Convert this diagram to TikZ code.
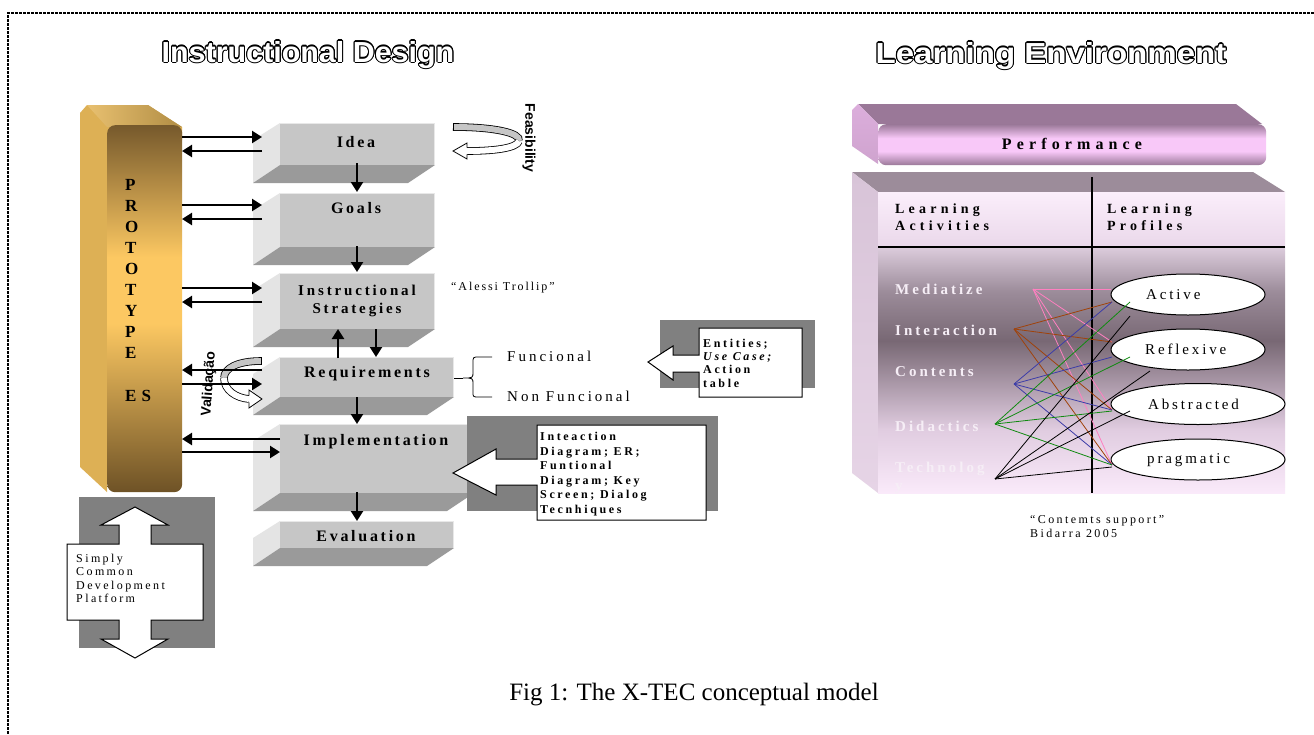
\documentclass[tikz,border=0pt]{standalone}
\usepackage{fontspec}
\setmainfont{Liberation Serif}
\newfontfamily\tsans{Liberation Sans}
\usetikzlibrary{arrows.meta,calc,shapes.geometric}
\newcommand{\ls}[1]{\addfontfeature{LetterSpace=#1}}
\definecolor{slabF}{HTML}{C6C6C6}
\definecolor{slabL}{HTML}{E4E4E4}
\definecolor{slabB}{HTML}{9A9A9A}
\definecolor{callG}{HTML}{808080}
\definecolor{gold}{HTML}{DDB055}
\definecolor{goldT}{HTML}{E8C070}
\definecolor{prT}{HTML}{76592C}
\definecolor{prL}{HTML}{FCC862}
\definecolor{prB}{HTML}{6E5226}
\definecolor{perfT}{HTML}{9A7898}
\definecolor{perfL}{HTML}{F8C8F8}
\definecolor{perfSide}{HTML}{DCAEDC}
\definecolor{tabTop}{HTML}{9C8C9A}
\definecolor{tabSide}{HTML}{D8C4D8}
\definecolor{tabSideB}{HTML}{E6D4E6}
\definecolor{hdrT}{HTML}{FBEEFB}
\definecolor{hdrB}{HTML}{EAD8EA}
\definecolor{tbT}{HTML}{DCCCDC}
\definecolor{tbU}{HTML}{9C8C9A}
\definecolor{tbD}{HTML}{786874}
\definecolor{tbM}{HTML}{E0CCE0}
\definecolor{tbB}{HTML}{FAEAFA}
\definecolor{lpink}{HTML}{FF80C0}
\definecolor{lbrown}{HTML}{A0420A}
\definecolor{lblue}{HTML}{3C3CA8}
\definecolor{lgreen}{HTML}{108A10}
\definecolor{wlabel}{HTML}{F6EEF6}
\pgfdeclareverticalshading{protosh}{100bp}{color(0bp)=(prB); color(25bp)=(prB); color(48bp)=(prL); color(57bp)=(prL); color(75bp)=(prT); color(100bp)=(prT)}
\pgfdeclareverticalshading{tabsh}{100bp}{color(0bp)=(tbB); color(25bp)=(tbB); color(38bp)=(tbM); color(56bp)=(tbD); color(66bp)=(tbU); color(75bp)=(tbT); color(100bp)=(tbT)}
\pgfdeclareverticalshading{perfsh}{100bp}{color(0bp)=(perfT); color(25bp)=(perfT); color(42bp)=(perfL); color(58bp)=(perfL); color(75bp)=(perfT); color(100bp)=(perfT)}
\newcommand{\outlinetitle}[4]{%
  \foreach \ang in {0,22.5,...,337.5}{%
    \node[titlef,text=black,xscale=#3] at ([shift={(\ang:1.05)}]#2) {#4};}%
  \node[titlef,text=white,xscale=#3] (#1) at (#2) {#4};}
\newcommand{\slab}[5]{%
  \fill[slabL] (#2,#3) -- (#2,#5) -- ({#2-27},{#5+18}) -- ({#2-27},{#3+17}) -- cycle;
  \fill[slabB] (#2,#5) -- (#4,#5) -- ({#4-27},{#5+18}) -- ({#2-27},{#5+18}) -- cycle;
  \node[fill=slabF,inner sep=0pt,minimum width={#4-#2},minimum height={#5-#3},anchor=north west] (#1) at (#2,#3) {};
  \draw[white!60!slabF,line width=1.2pt] ({#2},{#3+0.6}) -- ({#4-0.6},{#3+0.6}) -- ({#4-0.6},#5);}
\begin{document}
\begin{tikzpicture}[x=1pt,y=-1pt,
  titlef/.style={font=\tsans\bfseries\fontsize{29}{32}\selectfont,inner sep=0pt,anchor=base},
  arr/.style={line width=2.3pt,-{Triangle[length=10pt,width=12pt]}},
  txt/.style={inner sep=0pt,anchor=base west},
  ctxt/.style={inner sep=0pt,anchor=base},
  boxf/.style={font=\bfseries\fontsize{16}{18}\selectfont\ls{17}},
  protof/.style={font=\bfseries\fontsize{17}{19}\selectfont},
  smallb/.style={font=\bfseries\fontsize{12}{14}\selectfont\ls{22}},
  smallr/.style={font=\fontsize{12}{14}\selectfont\ls{20}},
  funcf/.style={font=\fontsize{15}{17}\selectfont\ls{20}},
  hdrf/.style={font=\bfseries\fontsize{14}{16}\selectfont\ls{30}},
  actf/.style={font=\bfseries\fontsize{15}{17}\selectfont\ls{20},text=wlabel},
  proff/.style={font=\fontsize{15}{17}\selectfont\ls{19}},
  prof/.style={ellipse,draw,fill=white,line width=1pt,inner sep=0pt,minimum height=41},
  band/.style={line width=0.8pt,double distance=6pt},
  conn/.style={line width=0.8pt}
]
\useasboundingbox (0,0) rectangle (1314,734);
\fill[white] (0,0) rectangle (1314,734);
% frame
\draw[line width=1.6pt,dash pattern=on 3pt off 1pt] (1314,13) -- (8,13) -- (8,734);
% titles
\outlinetitle{tID}{308,62}{1.05}{Instructional Design}
\outlinetitle{tLE}{1051,63}{1.14}{Learning Environment}

% ---------------- prototype pillar
\fill[gold] (80,113) -- (87,105) -- (148,105) -- (182,127) -- (182,140) -- (107,140) -- (107,492) -- (80,467) -- cycle;
\shade[left color=goldT,right color=gold!80!black] (87,105) -- (148,105) -- (182,127) -- (107,127) -- cycle;
\node[shade,shading=protosh,rounded corners=8pt,inner sep=0pt,minimum width=75,minimum height=367,anchor=north west] (proto) at (107,125) {};
\foreach \l [count=\i] in {P,R,O,T,O,T,Y,P,E}
  \node[protof,txt] (pl\i) at (125,{169+21*\i}) {\l};
\node[protof,txt,font=\bfseries\fontsize{17}{19}\selectfont\ls{30}] (pes) at (125,401) {ES};

% ---------------- slabs
\slab{idea}{280}{123}{435}{165}
\slab{goals}{280}{193}{435}{247}
\slab{instr}{280}{273}{435}{329}
\slab{req}{280}{357}{454}{397}
\slab{impl}{280}{424}{474}{493}
\slab{eval}{280}{521}{454}{548}

\node[boxf,ctxt] (tidea) at (356,147) {Idea};
\node[boxf,ctxt] (tgoals) at (356,213) {Goals};
\node[ctxt,font=\bfseries\fontsize{15}{17}\selectfont\ls{19}] (tinstr1) at (357,295) {Instructional};
\node[ctxt,font=\bfseries\fontsize{15}{17}\selectfont\ls{19}] (tinstr2) at (357,313) {Strategies};
\node[boxf,ctxt] (treq) at (367,377) {Requirements};
\node[boxf,ctxt] (timpl) at (376,445) {Implementation};
\node[boxf,ctxt] (teval) at (366,541) {Evaluation};

% vertical flow arrows
\draw[arr] (357,163) -- (357,192);
\draw[arr] (357,246) -- (357,272);
\draw[arr] (338,358) -- (338,329);
\draw[arr] (376,329) -- (376,357);
\draw[arr] (357,397) -- (357,424);
\draw[arr] (357,492) -- (357,521);

% implementation callout
\fill[callG] (467,416) rectangle (718,511);
\draw[fill=white,line width=1pt] (537,425) -- (706,425) -- (706,520) -- (537,520) -- (537,485) -- (496,485) -- (496,495) -- (453,473) -- (496,449) -- (496,459) -- (537,459) -- cycle;
\foreach \t/\yy in {Inteaction/440,{Diagram; ER;}/455,Funtional/469,{Diagram; Key}/484,{Screen; Dialog}/498,Tecnhiques/513}
  \node[smallb,txt] at (540,\yy) {\t};

% requirements callout
\fill[callG] (660,320) rectangle (815,388);
\draw[fill=white,line width=1pt] (699,328) -- (802,328) -- (802,397) -- (699,397) -- (699,372) -- (673,372) -- (673,380) -- (648,362) -- (673,346) -- (673,355) -- (699,355) -- cycle;
\node[smallb,txt] (ent1) at (703,347) {Entities;};
\node[smallb,txt,font=\bfseries\itshape\fontsize{12}{14}\selectfont\ls{22}] (ent2) at (703,360) {Use Case;};
\node[smallb,txt] (ent3) at (703,373) {Action};
\node[smallb,txt] (ent4) at (703,387) {table};

% brace
\draw[line width=1pt] (454,378) -- (463,378);
\draw[line width=0.8pt] (492,357) -- (479,357) .. controls (473,357) .. (473,363) -- (473,372) .. controls (473,378) .. (463,378) .. controls (473,378) .. (473,384) -- (473,392) .. controls (473,397) .. (479,397) -- (492,397);
\node[funcf,txt] (fun) at (507,361) {Funcional};
\node[funcf,txt] (nfun) at (507,401) {Non Funcional};
\node[txt,font=\fontsize{12}{14}\selectfont\ls{16}] (alessi) at (451,290) {“Alessi Trollip”};

% feasibility
\draw[band,double=slabF] (453,127) .. controls (495,127) and (521,133) .. (519,141);
\draw[band,double=white] (519,141) .. controls (517,148) and (495,151) .. (467,151);
\draw[line width=0.8pt] (453,123.2) -- (453,130.8);
\draw[line width=0.8pt,fill=white] (467,147.6) -- (467,143) -- (453,151) -- (467,159) -- (467,154.4);
\node[font=\tsans\bfseries\fontsize{14}{16}\selectfont,rotate=-90,inner sep=0pt] (feas) at (529,138) {Feasibility};

% validacao
\draw[band,double=slabF] (261,361) .. controls (238,361) and (224,368) .. (224,378);
\draw[band,double=white] (224,378) .. controls (224,390) and (236,398) .. (249,399);
\draw[line width=0.8pt] (261,357.2) -- (261,364.8);
\draw[line width=0.8pt,fill=white] (249,395.6) -- (249,390) -- (262,399) -- (249,408) -- (249,402.4);

% prototype arrows
\draw[arr] (182,137) -- (262,137);
\draw[arr] (262,151) -- (182,151);
\draw[arr] (182,205) -- (262,205);
\draw[arr] (262,219) -- (182,219);
\draw[arr] (182,288) -- (262,288);
\draw[arr] (262,302) -- (182,302);
\draw[arr] (262,370) -- (182,370);
\draw[arr] (182,384) -- (262,384);
\draw[arr] (280,439) -- (182,439);
\draw[arr] (182,452) -- (280,452);
\node[font=\tsans\bfseries\fontsize{14}{16}\selectfont,rotate=86,inner sep=0pt] (valid) at (209,384) {Validação};

% simply common development platform
\fill[callG] (79,497) rectangle (215,648);
\draw[fill=white,line width=1pt] (67,544) -- (119,544) -- (119,525) -- (101,525) -- (135,507) -- (168,525) -- (151,525) -- (151,544) -- (203,544) -- (203,620) -- (151,620) -- (151,639) -- (168,639) -- (135,658) -- (101,639) -- (119,639) -- (119,620) -- (67,620) -- cycle;
\node[smallr,txt] (sc1) at (76,562) {Simply};
\node[smallr,txt] (sc2) at (76,575.5) {Common};
\node[smallr,txt] (sc3) at (76,589) {Development};
\node[smallr,txt] (sc4) at (76,602.5) {Platform};

% ---------------- right: performance
\fill[perfT] (858,104) -- (1236,104) -- (1262,124) -- (878,124) -- cycle;
\shade[top color=perfSide,bottom color=perfSide!80!perfT] (852,110) -- (858,104) -- (878,124) -- (878,164) -- (852,146) -- cycle;
\node[shade,shading=perfsh,rounded corners=8pt,inner sep=0pt,minimum width=388,minimum height=41,anchor=north west] (perf) at (878,124) {};
\node[ctxt,font=\bfseries\fontsize{16}{18}\selectfont\ls{32}] (tperf) at (1072,149) {Performance};

% table
\fill[tabTop] (852,172) -- (1253,172) -- (1285,192) -- (878,192) -- cycle;
\shade[top color=tabSide,bottom color=tabSideB] (852,172) -- (878,192) -- (878,493) -- (852,473) -- cycle;
\shade[top color=hdrT,bottom color=hdrB] (878,192) rectangle (1285,247);
\node[shade,shading=tabsh,inner sep=0pt,minimum width=407,minimum height=246,anchor=north west] (tbody) at (878,247) {};
\draw[line width=1.2pt] (1092,177) -- (1092,493);
\draw[line width=1.2pt] (878,247) -- (1285,247);
\node[hdrf,txt] (h1) at (895,213) {Learning};
\node[hdrf,txt] (h2) at (895,230) {Activities};
\node[hdrf,txt] (h3) at (1107,213) {Learning};
\node[hdrf,txt] (h4) at (1107,230) {Profiles};
\begin{scope}
\clip (878,192) rectangle (1285,493);
\node[actf,txt] (aM) at (895,294) {Mediatize};
\node[actf,txt] (aI) at (895,335) {Interaction};
\node[actf,txt] (aC) at (895,376) {Contents};
\node[actf,txt] (aD) at (895,431) {Didactics};
\node[actf,txt] (aT) at (895,472) {Technolog};
\node[actf,txt] (aY) at (895,490) {y};
\end{scope}

% profiles
\node[prof,minimum width=154] (pAct) at (1188,294.5) {};
\node[prof,minimum width=154] (pRef) at (1188,349.5) {};
\node[prof,minimum width=174] (pAbs) at (1198,404) {};
\node[prof,minimum width=174] (pPra) at (1198,459.5) {};
\node[proff,txt] at (1146,299) {Active};
\node[proff,txt] at (1145,354) {Reflexive};
\node[proff,txt] at (1148,409) {Abstracted};
\node[proff,txt] at (1147,463) {pragmatic};

% connectors
\coordinate (sM) at (1033,289);
\coordinate (sI) at (1014,329);
\coordinate (sC) at (1014,384);
\coordinate (sD) at (995,424);
\coordinate (sT) at (995,479);
\foreach \p in {(1111,289),(1112,342),(1112,410),(1112,465)} \draw[conn,lpink] (sM) -- \p;
\foreach \p in {(1112,302),(1112,342),(1112,410),(1112,465)} \draw[conn,lbrown] (sI) -- \p;
\foreach \p in {(1112,302),(1112,357),(1112,410),(1112,465)} \draw[conn,lblue] (sC) -- \p;
\foreach \p in {(1130,302),(1130,357),(1112,411),(1112,465)} \draw[conn,lgreen] (sD) -- \p;
\foreach \p in {(1130,316),(1150,371),(1130,411),(1112,467)} \draw[conn,black] (sT) -- \p;

\node[txt,font=\fontsize{12}{14}\selectfont\ls{20}] (cs1) at (1030,523) {“Contemts support”};
\node[txt,font=\fontsize{12}{14}\selectfont\ls{20}] (cs2) at (1030,537) {Bidarra 2005};

% caption
\node[ctxt,font=\fontsize{25}{29}\selectfont] (cap) at (694,700) {Fig 1: The X-TEC conceptual model};
\end{tikzpicture}
\end{document}
